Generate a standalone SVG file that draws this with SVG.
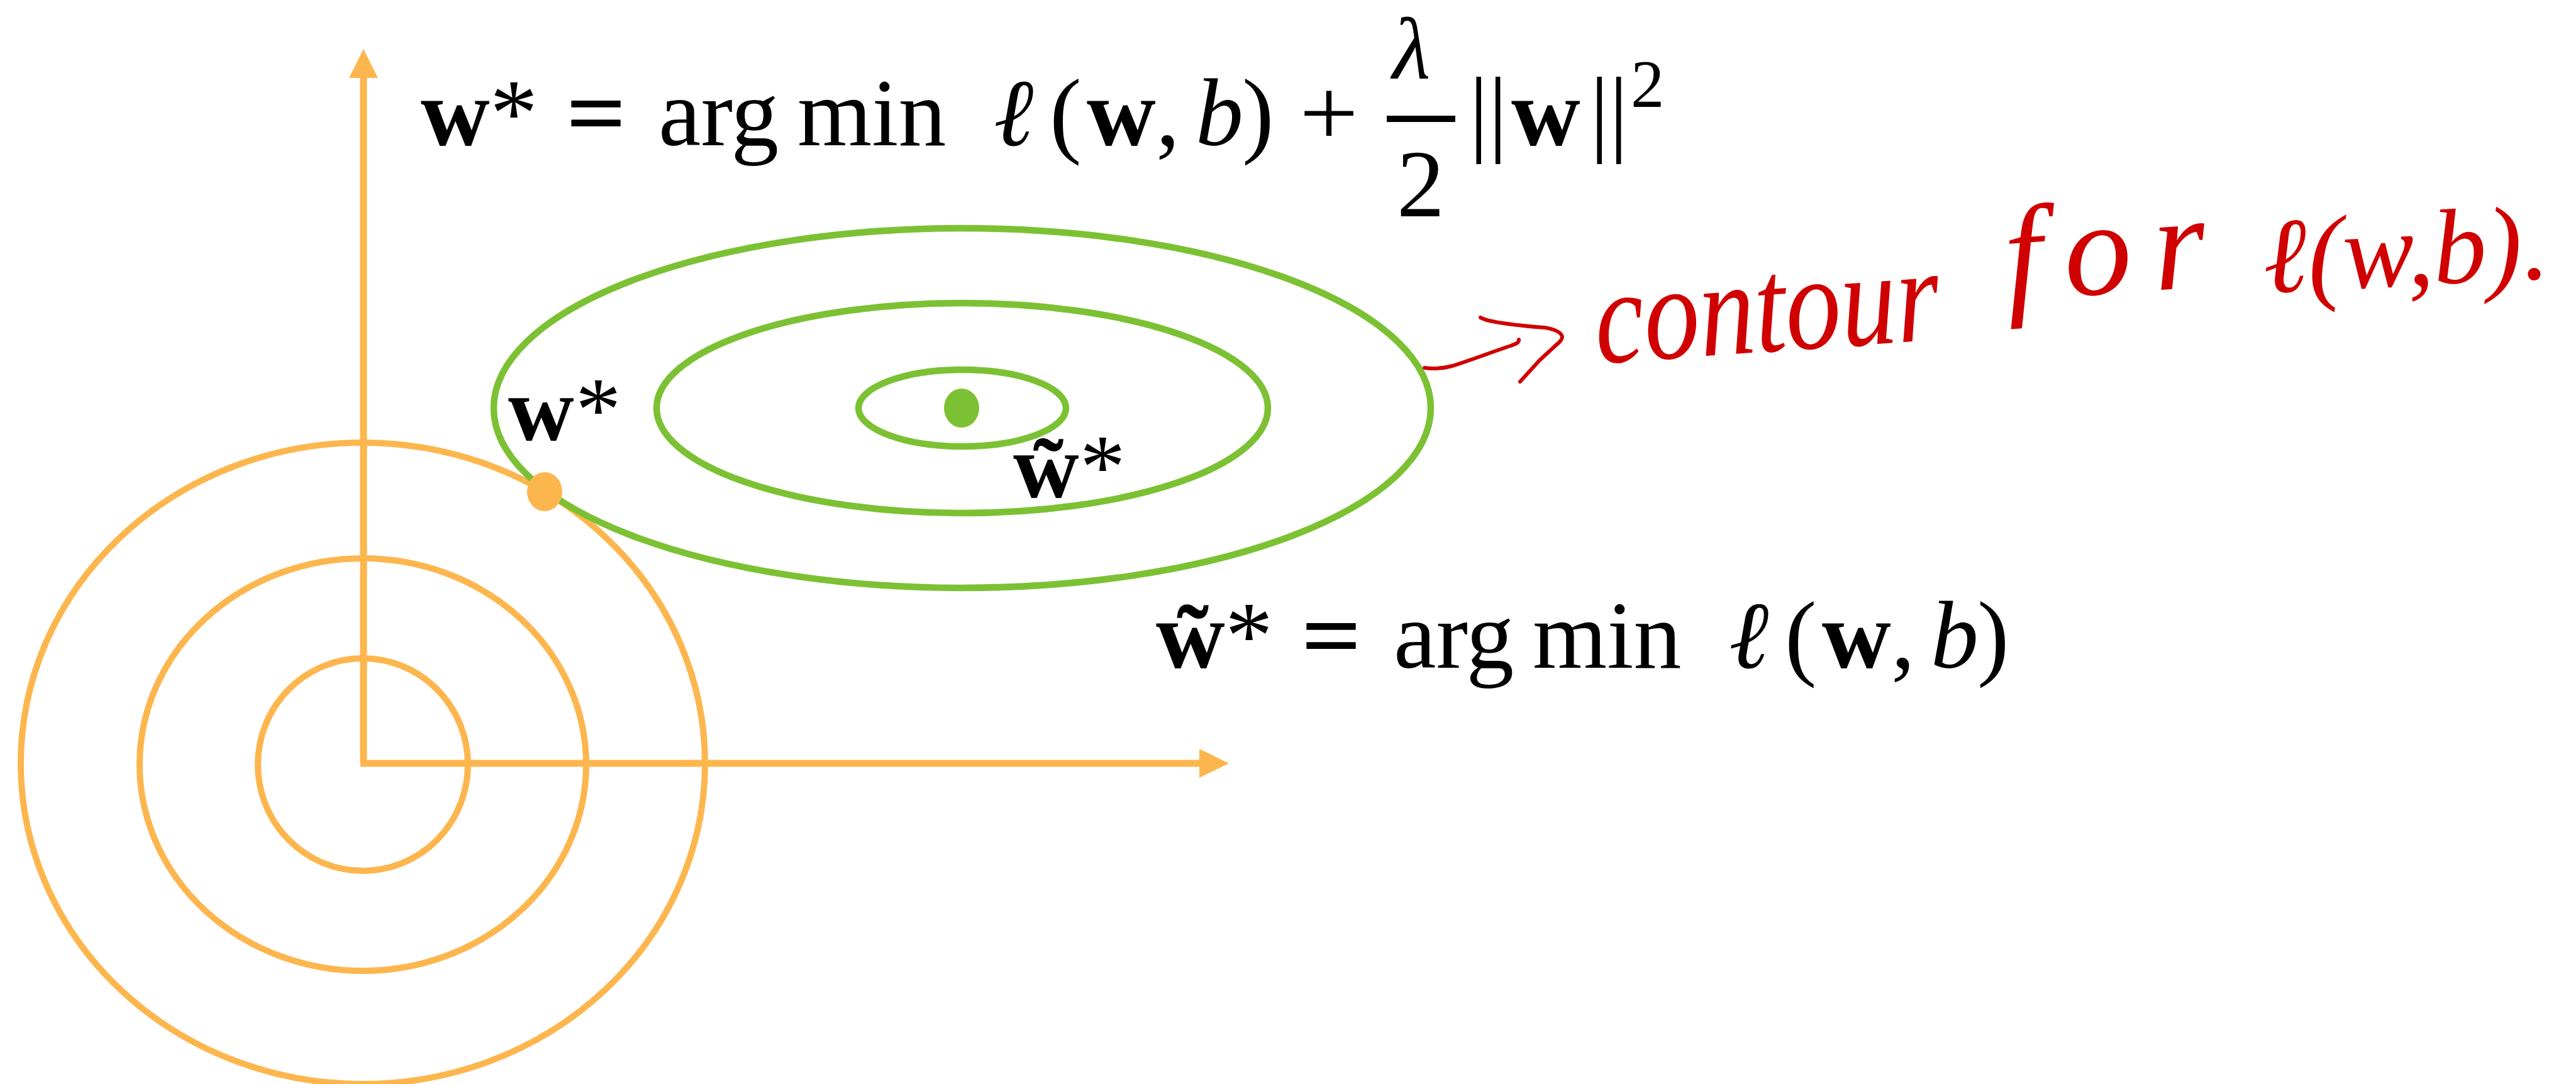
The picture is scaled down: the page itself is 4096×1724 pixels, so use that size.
<svg xmlns="http://www.w3.org/2000/svg" width="4096" height="1724" viewBox="0 0 4096 1724">
<style>
.orange{fill:none;stroke:#FDB64E;stroke-width:10}
.green{fill:none;stroke:#7CC133;stroke-width:10.5}
.m{font-family:"Liberation Serif","Times New Roman",serif;font-size:152px;fill:#000}
.b{font-weight:bold}
.i{font-style:italic}
.lab{font-family:"Liberation Serif","Times New Roman",serif;font-size:145px;fill:#000}
.hw{font-family:"Liberation Serif","Times New Roman",serif;font-style:italic;font-size:215px;fill:#D00000}
.red{fill:none;stroke:#D00000;stroke-width:6;stroke-linecap:round;stroke-linejoin:round}
</style>
<rect width="4096" height="1724" fill="#fff"/>
<g id="orange-contours">
<ellipse class="orange" cx="577" cy="1214" rx="544" ry="510"/>
<ellipse class="orange" cx="577" cy="1216" rx="355" ry="328"/>
<ellipse class="orange" cx="577" cy="1216" rx="167" ry="169"/>
</g>
<g id="axes">
<line x1="578" y1="1214" x2="578" y2="120" stroke="#FDB64E" stroke-width="11"/>
<polygon points="578,78 555,124 601,124" fill="#FDB64E"/>
<line x1="573" y1="1214" x2="1910" y2="1214" stroke="#FDB64E" stroke-width="11"/>
<polygon points="1954,1214 1907,1191 1907,1237" fill="#FDB64E"/>
</g>
<g id="green-contours">
<ellipse class="green" cx="1530" cy="649" rx="745" ry="286"/>
<ellipse class="green" cx="1530" cy="649" rx="486" ry="167"/>
<ellipse class="green" cx="1530" cy="649" rx="165" ry="61"/>
</g>
<g id="point-wtilde">
<ellipse cx="1529" cy="649" rx="28" ry="31" fill="#7CC133"/>
</g>
<g id="point-wstar">
<ellipse cx="866" cy="782" rx="28" ry="31" fill="#FDB64E"/>
</g>
<g id="label-wstar">
<text class="lab b" x="808" y="700">w</text>
<text class="lab" x="915" y="700">*</text>
</g>
<g id="label-wtilde">
<text class="lab b" x="1611" y="791">w&#x303;</text>
<text class="lab" x="1717" y="791">*</text>
</g>
<g id="formula-top">
<text class="m b" x="669" y="231">w</text>
<text class="m" x="779" y="231">*</text>
<text class="m b" x="900" y="231" textLength="96" lengthAdjust="spacingAndGlyphs">=</text>
<text class="m" x="1047" y="231">arg</text>
<text class="m" x="1268" y="231">min</text>
<text class="m i" x="1580" y="231">ℓ</text>
<text class="m" x="1669" y="231">(</text>
<text class="m b" x="1728" y="231">w</text>
<text class="m" x="1838" y="231">,</text>
<text class="m i" x="1901" y="231">b</text>
<text class="m" x="1975" y="231">)</text>
<text class="m" x="2066" y="231" textLength="94" lengthAdjust="spacingAndGlyphs">+</text>
<text class="m i" x="2214" y="125" style="font-size:140px">λ</text>
<line x1="2205" y1="189" x2="2314" y2="189" stroke="#000" stroke-width="10"/>
<text class="m" x="2221" y="344">2</text>
<text class="m" x="2336" y="228">||</text>
<text class="m b" x="2403" y="231">w</text>
<text class="m" x="2528" y="228">||</text>
<text class="m" x="2593" y="170" style="font-size:107px">2</text>
</g>
<g id="formula-bottom">
<text class="m b" x="1838" y="1062">w&#x303;</text>
<text class="m" x="1948" y="1062">*</text>
<text class="m b" x="2069" y="1062" textLength="96" lengthAdjust="spacingAndGlyphs">=</text>
<text class="m" x="2216" y="1062">arg</text>
<text class="m" x="2437" y="1062">min</text>
<text class="m i" x="2749" y="1062">ℓ</text>
<text class="m" x="2838" y="1062">(</text>
<text class="m b" x="2897" y="1062">w</text>
<text class="m" x="3007" y="1062">,</text>
<text class="m i" x="3070" y="1062">b</text>
<text class="m" x="3144" y="1062">)</text>
</g>
<g id="annotation">
<text class="hw" x="2540" y="578" transform="rotate(-4 2540 578)" textLength="549" lengthAdjust="spacingAndGlyphs">contour</text>
<text class="hw" x="3192" y="478" transform="rotate(-4 3192 478)" textLength="320" lengthAdjust="spacing">for</text>
<text class="hw" x="3601" y="466" transform="rotate(-3 3601 466)" style="font-size:170px">ℓ(w,b).</text>
</g>
<g id="connectors">
<path class="red" d="M2265,585 C2280,587 2295,586 2309,582 C2330,576 2380,557 2402,550 C2410,547 2416,545 2415,540"/>
<path class="red" d="M2354,505 C2358,507 2362,509 2368,510 C2390,515 2430,519 2456,521 C2470,523 2482,528 2484,535 C2484,541 2478,546 2474,549 L2448,573 L2417,607"/>
</g>
</svg>
